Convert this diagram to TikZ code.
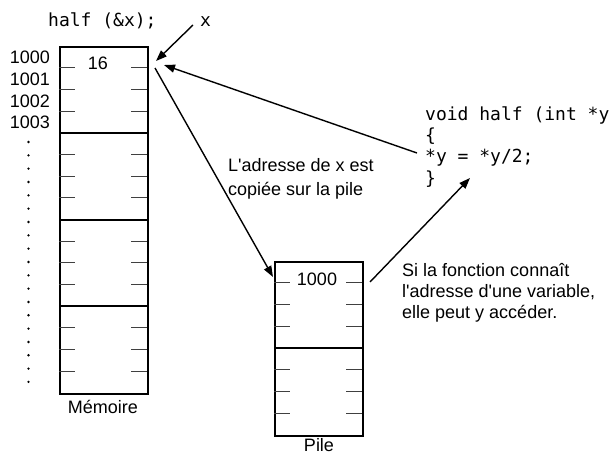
\documentclass[tikz,border=0pt]{standalone}
\usepackage{fontspec}
\setmainfont{Liberation Sans}
\newfontfamily\codefont{DejaVu Sans Mono}
\usetikzlibrary{arrows.meta}
\begin{document}
\begin{tikzpicture}[x=1pt,y=-1pt,
  boxline/.style={line width=2pt},
  tickline/.style={line width=1.1pt, black!75},
  arr/.style={line width=1.4pt, -{Triangle[length=11pt,width=8pt]}},
  lbl/.style={font=\fontsize{18}{21}\selectfont, inner sep=0pt, anchor=base west},
  code/.style={font=\codefont\fontsize{18}{21}\selectfont, inner sep=0pt, anchor=base west}]
\useasboundingbox (0,0) rectangle (610,455);

% memory column
\node[draw, boxline, minimum width=88pt, minimum height=347pt, inner sep=0pt, anchor=north west] (mem) at (59,46) {};
\foreach \k in {1,2,3} {\draw[boxline] (59,{46+86.75*\k}) -- (147,{46+86.75*\k});}
\foreach \k in {0,...,3} {\foreach \j in {1,2,3} {
  \draw[tickline] (59,{46+86.75*\k+21.6875*\j}) -- ++(16,0);
  \draw[tickline] (131,{46+86.75*\k+21.6875*\j}) -- ++(16,0);}}
\node[lbl, anchor=base] (v16) at (98,69) {16};
\node[lbl, anchor=base] (memlbl) at (103,413) {Mémoire};

% addresses
\node[lbl, anchor=base east] (a0) at (50,63.5) {1000};
\node[lbl, anchor=base east] (a1) at (50,85.2) {1001};
\node[lbl, anchor=base east] (a2) at (50,107) {1002};
\node[lbl, anchor=base east] (a3) at (50,128.8) {1003};
\foreach \i in {0,...,18} {\fill (28.5,{142+13.33*\i}) circle (1.3pt);}

% stack column
\node[draw, boxline, minimum width=88pt, minimum height=174pt, inner sep=0pt, anchor=north west] (pile) at (274,261) {};
\draw[boxline] (274,348) -- (362,348);
\foreach \k in {0,1} {\foreach \j in {1,2,3} {
  \draw[tickline] (274,{261+87*\k+21.75*\j}) -- ++(16,0);
  \draw[tickline] (346,{261+87*\k+21.75*\j}) -- ++(16,0);}}
\node[lbl, anchor=base] (v1000) at (317,285) {1000};
\node[lbl, anchor=base] (pilelbl) at (319,451) {Pile};

% code
\node[code] (call) at (48,26) {half (\&x);};
\node[code] (xlab) at (200,26) {x};
\node[code] (c1) at (425,120) {void half (int *y)};
\node[code] (c2) at (425,141.3) {\{};
\node[code] (c3) at (425,162.6) {*y = *y/2;};
\node[code] (c4) at (425,184) {\}};

% explanations
\node[lbl] (t1) at (228,171.7) {L\textquotesingle adresse de x est};
\node[lbl] (t2) at (228,195) {copiée sur la pile};
\node[lbl] (s1) at (402,276) {Si la fonction connaît};
\node[lbl] (s2) at (402,297) {l\textquotesingle adresse d\textquotesingle une variable,};
\node[lbl] (s3) at (402,318) {elle peut y accéder.};

% connectors
\coordinate (xtail) at (193,25);
\coordinate (memin) at (156,61);
\coordinate (memin2) at (164,65);
\coordinate (memout) at (155,68);
\coordinate (pilein) at (273,277);
\coordinate (pileout) at (370,282);
\coordinate (codein) at (470,178);
\coordinate (codeout) at (417,153);
\draw[arr] (xtail) -- (memin);
\draw[arr] (codeout) -- (memin2);
\draw[arr] (memout) -- (pilein);
\draw[arr] (pileout) -- (codein);
\end{tikzpicture}
\end{document}
